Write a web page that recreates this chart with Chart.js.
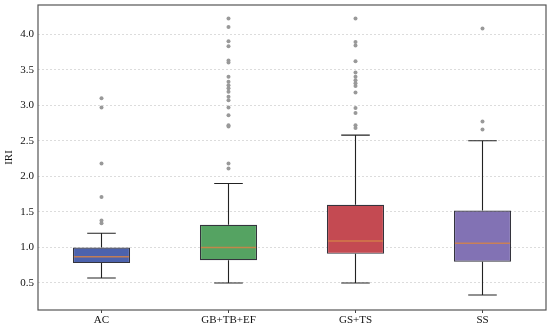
<!DOCTYPE html>
<html>
<head>
<meta charset="utf-8">
<script src="https://cdn.jsdelivr.net/npm/chart.js@4/dist/chart.umd.min.js"></script>
<style>
  html, body { margin: 0; padding: 0; background: #fff; }
  #wrap { width: 550px; height: 328px; }
</style>
</head>
<body>
<div id="wrap"><canvas id="myChart"></canvas></div>
<script>
// box plot values
var categories = ['AC', 'GB+TB+EF', 'GS+TS', 'SS'];
var lowWhisker = [0.57, 0.50, 0.50, 0.33];
var q1 = [0.78, 0.82, 0.91, 0.80];
var median = [0.87, 1.00, 1.09, 1.06];
var q3 = [1.00, 1.32, 1.60, 1.52];
var highWhisker = [1.20, 1.90, 2.58, 2.50];

var outliersAC = [3.10, 2.97, 2.18, 1.71, 1.38, 1.34];
var outliersGB = [4.22, 4.10, 3.90, 3.83, 3.63, 3.60, 3.40, 3.33, 3.28, 3.24, 3.19, 3.12, 3.07, 2.97, 2.86, 2.72, 2.70, 2.18, 2.11];
var outliersGS = [4.22, 3.89, 3.84, 3.62, 3.46, 3.40, 3.35, 3.31, 3.27, 3.18, 2.96, 2.89, 2.72, 2.68];
var outliersSS = [4.08, 2.77, 2.66];

var yTicks = [0.5, 1.0, 1.5, 2.0, 2.5, 3.0, 3.5, 4.0];
var yMin = 0.12, yMax = 4.41;

var boxColors = ['#4c62ad', '#55a362', '#c44a52', '#8272b4'];

var allOutliers = [outliersAC, outliersGB, outliersGS, outliersSS];
var outlierPoints = [];
allOutliers.forEach(function (list, i) {
  list.forEach(function (v) {
    outlierPoints.push({ x: categories[i], y: v });
  });
});

var boxes = q1.map(function (v, i) { return [v, q3[i]]; });

// whiskers behind the boxes, medians on top
var boxPlotLines = {
  id: 'boxPlotLines',
  beforeDatasetsDraw: function (chart) {
    var ctx = chart.ctx, x = chart.scales.x, y = chart.scales.y;
    var meta = chart.getDatasetMeta(0);
    ctx.save();
    ctx.strokeStyle = '#222';
    ctx.lineWidth = 1.1;
    categories.forEach(function (c, i) {
      var bar = meta.data[i];
      var cx = x.getPixelForValue(i);
      var half = bar.width / 4;
      ctx.beginPath();
      ctx.moveTo(cx, y.getPixelForValue(q3[i]));
      ctx.lineTo(cx, y.getPixelForValue(highWhisker[i]));
      ctx.moveTo(cx - half, y.getPixelForValue(highWhisker[i]));
      ctx.lineTo(cx + half, y.getPixelForValue(highWhisker[i]));
      ctx.moveTo(cx, y.getPixelForValue(q1[i]));
      ctx.lineTo(cx, y.getPixelForValue(lowWhisker[i]));
      ctx.moveTo(cx - half, y.getPixelForValue(lowWhisker[i]));
      ctx.lineTo(cx + half, y.getPixelForValue(lowWhisker[i]));
      ctx.stroke();
    });
    ctx.restore();
  },
  afterDatasetDraw: function (chart, args) {
    if (args.index !== 0) return;
    var ctx = chart.ctx, x = chart.scales.x, y = chart.scales.y;
    var meta = chart.getDatasetMeta(0);
    ctx.save();
    ctx.strokeStyle = 'rgba(214,130,70,0.85)';
    ctx.lineWidth = 1.5;
    categories.forEach(function (c, i) {
      var bar = meta.data[i];
      var cx = x.getPixelForValue(i);
      var py = y.getPixelForValue(median[i]);
      ctx.beginPath();
      ctx.moveTo(cx - bar.width / 2 + 1, py);
      ctx.lineTo(cx + bar.width / 2 - 1, py);
      ctx.stroke();
    });
    ctx.restore();
  },
  afterDraw: function (chart) {
    var a = chart.chartArea, ctx = chart.ctx;
    ctx.save();
    ctx.strokeStyle = '#555';
    ctx.lineWidth = 1.2;
    ctx.strokeRect(a.left, a.top, a.right - a.left, a.bottom - a.top);
    ctx.restore();
  }
};

var ctx = document.getElementById('myChart');
var myChart = new Chart(ctx, {
  type: 'bar',
  data: {
    labels: categories,
    datasets: [{
      label: 'box',
      data: boxes,
      backgroundColor: boxColors,
      borderColor: 'rgba(30,30,40,0.9)',
      borderWidth: 1.2,
      borderSkipped: false,
      barPercentage: 0.45,
      categoryPercentage: 1.0,
      order: 2
    }, {
      type: 'scatter',
      label: 'outliers',
      data: outlierPoints,
      pointRadius: 2,
      pointBackgroundColor: '#999',
      pointBorderWidth: 0,
      order: 1
    }]
  },
  options: {
    responsive: true,
    maintainAspectRatio: false,
    animation: false,
    layout: { padding: { top: 5, right: 4, left: 3, bottom: 0 } },
    plugins: { legend: { display: false }, tooltip: { enabled: false } },
    scales: {
      x: {
        type: 'category',
        offset: true,
        grid: { display: true, offset: false, drawOnChartArea: false, drawTicks: true, tickLength: 3, color: '#444' },
        border: { display: false },
        ticks: { color: '#111', padding: 1, font: { family: 'Liberation Serif', size: 11 } },
        afterFit: function (scale) { scale.height = 18; }
      },
      y: {
        min: yMin,
        max: yMax,
        afterBuildTicks: function (scale) {
          scale.ticks = yTicks.map(function (v) { return { value: v }; });
        },
        grid: { color: '#d4d4d4', lineWidth: 0.8, drawTicks: false },
        border: { display: false, dash: [2, 2] },
        ticks: {
          color: '#111',
          padding: 4,
          font: { family: 'Liberation Serif', size: 11 },
          callback: function (v) { return Number(v).toFixed(1); }
        },
        title: { display: true, text: 'IRI', color: '#111', padding: 0, font: { family: 'Liberation Serif', size: 11 } },
        afterFit: function (scale) {
          scale.width = 35;
          scale.paddingTop = 0;
          scale.paddingBottom = 0;
        }
      }
    }
  },
  plugins: [boxPlotLines]
});
</script>
</body>
</html>
